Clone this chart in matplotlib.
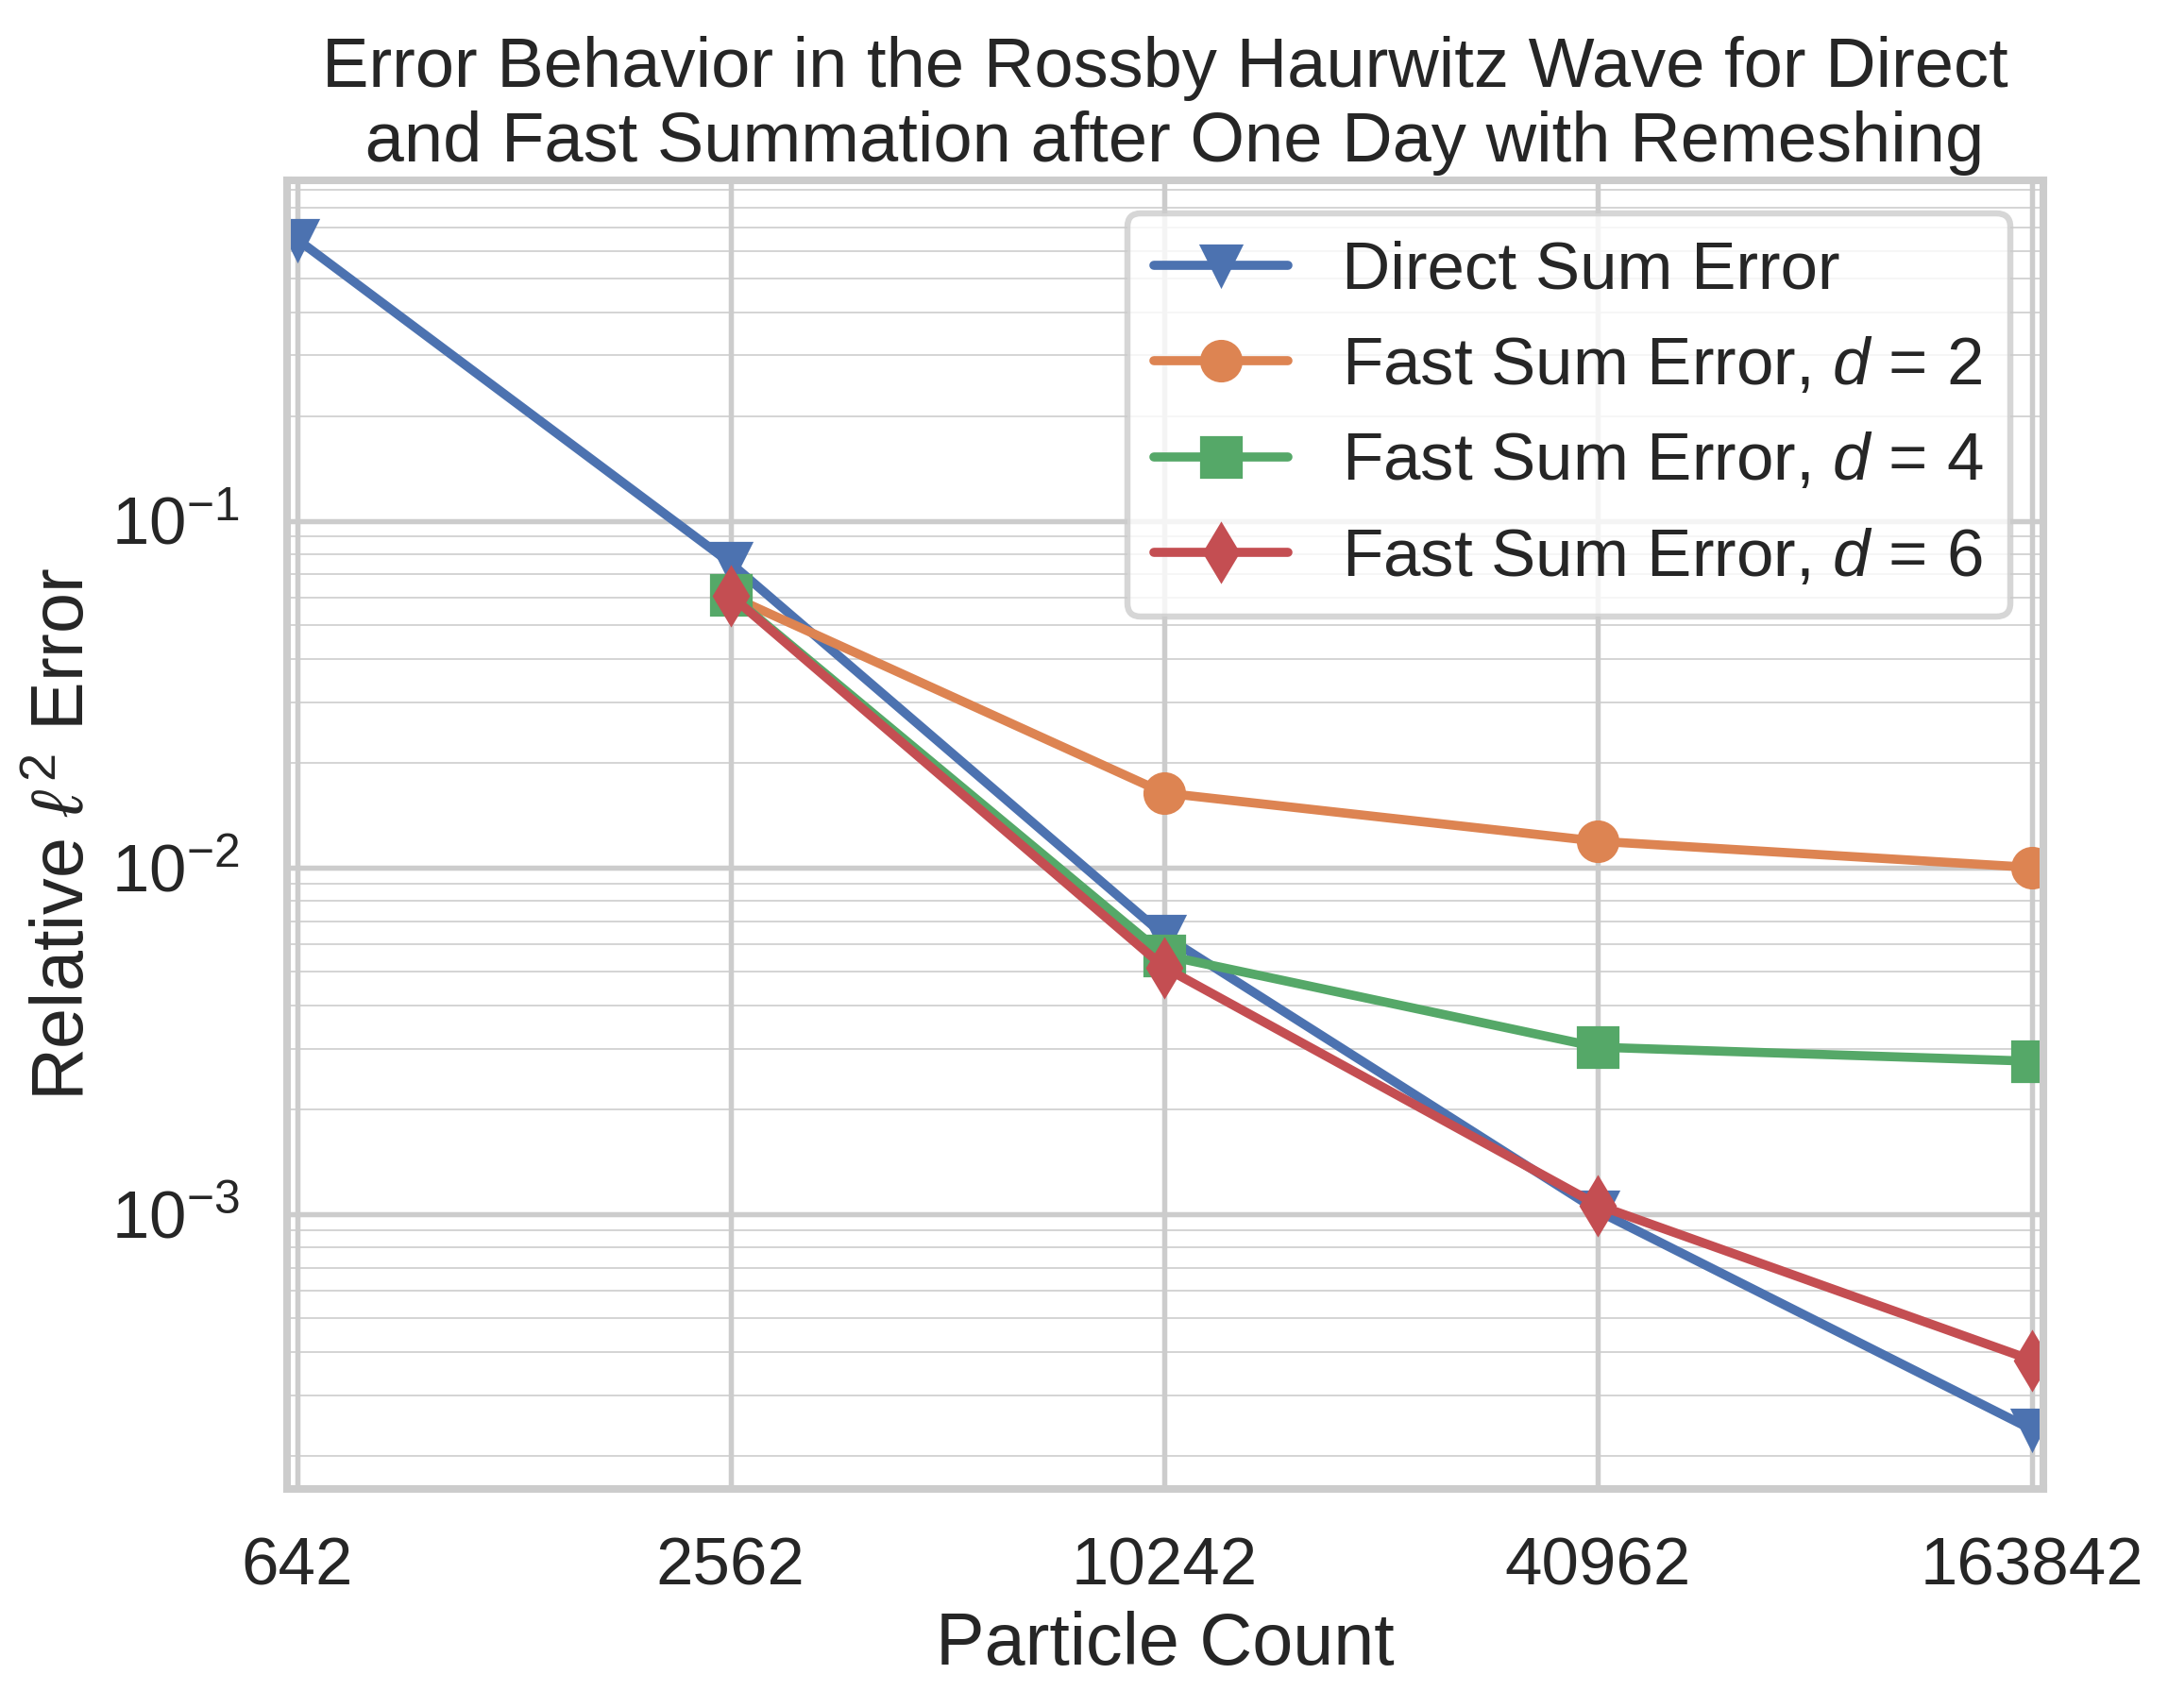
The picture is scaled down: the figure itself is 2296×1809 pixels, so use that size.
import numpy as np
import matplotlib
matplotlib.use("Agg")
import matplotlib.pyplot as plt
import seaborn as sns
from matplotlib.ticker import NullLocator

particle_counts = [642, 2562, 10242, 40962, 163842]
tick_labels = ["642", "2562", "10242", "40962", "163842"]

direct_err = [0.648, 0.0755, 0.00636, 0.00102, 0.000239]
fast_d2_err = [0.0607, 0.0164, 0.0119, 0.0100]
fast_d4_err = [0.0611, 0.00558, 0.00303, 0.00276]
fast_d6_err = [0.0609, 0.00515, 0.00106, 0.000379]

# poster context with white grid, like the original
sns.set_theme(style="whitegrid", context="poster")
plt.rcParams["font.family"] = ["Liberation Sans", "DejaVu Sans"]
plt.rcParams["mathtext.fontset"] = "custom"
plt.rcParams["mathtext.rm"] = "Liberation Sans"
plt.rcParams["mathtext.it"] = "Liberation Sans:italic"

dpi = 232
fig, ax = plt.subplots(figsize=(2296 / dpi, 1809 / dpi), dpi=dpi)
fig.subplots_adjust(left=0.1324, right=0.9425, top=0.8946, bottom=0.1282)

ax.plot(particle_counts, direct_err, marker="v", markersize=13, label="Direct Sum Error")
ax.plot(particle_counts[1:], fast_d2_err, marker="o", markersize=13, label="Fast Sum Error, $d$ = 2")
ax.plot(particle_counts[1:], fast_d4_err, marker="s", markersize=13, label="Fast Sum Error, $d$ = 4")
ax.plot(particle_counts[1:], fast_d6_err, marker="d", markersize=13, label="Fast Sum Error, $d$ = 6")

ax.set_xscale("log")
ax.set_yscale("log")
ax.set_xticks(particle_counts)
ax.set_xticklabels(tick_labels)
ax.xaxis.set_minor_locator(NullLocator())
ax.set_xlim(621, 169900)

ax.grid(True, which="major", linewidth=1.7)
ax.grid(True, which="minor", axis="y", linewidth=0.5)

ax.set_xlabel("Particle Count")
ax.set_ylabel("Relative $\\ell^{\\,2}$ Error")
ax.set_title("Error Behavior in the Rossby Haurwitz Wave for Direct\n and Fast Summation after One Day with Remeshing",
             fontsize=23)
ax.legend(loc="upper right")

fig.savefig("out.png", dpi=dpi)
